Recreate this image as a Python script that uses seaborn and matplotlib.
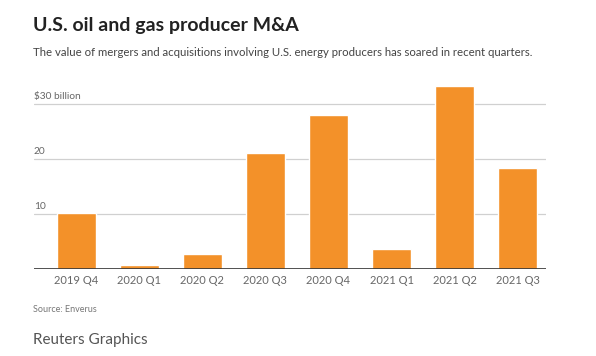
import matplotlib
matplotlib.use("Agg")
import matplotlib.pyplot as plt
import seaborn as sns
import pandas as pd

quarters = ["2019 Q4", "2020 Q1", "2020 Q2", "2020 Q3",
            "2020 Q4", "2021 Q1", "2021 Q2", "2021 Q3"]
deal_value = [10.2, 0.7, 2.8, 21.1, 28.0, 3.7, 33.4, 18.4]  # $ billion
y_ticks = [10, 20, 30]
y_tick_labels = ["10", "20", "$30 billion"]

BAR_COLOR = "#F39129"

sns.set_style("white")
plt.rcParams["font.family"] = ["Lato", "DejaVu Sans"]

df = pd.DataFrame({"quarter": quarters, "value": deal_value})

fig = plt.figure(figsize=(5.96, 3.56), dpi=100)
ax = fig.add_axes([34 / 596, 1 - 269.3 / 356, (546 - 34) / 596, (269.3 - 82.3) / 356])

sns.barplot(data=df, x="quarter", y="value", color=BAR_COLOR, saturation=1,
            width=0.625, ax=ax, zorder=3)

ax.set_ylim(0, 34)
ax.set_xlim(-0.67, 7.45)

# gridlines with labels sitting on top, left aligned
for t, lab in zip(y_ticks, y_tick_labels):
    ax.axhline(t, color="#d0d0d0", lw=0.9, zorder=1)
    ax.text(0, t + 0.6, lab, transform=ax.get_yaxis_transform(),
            ha="left", va="bottom", fontsize=7.3, color="#666666")
ax.axhline(0, color="#333333", lw=1.2, zorder=4)

ax.set_yticks([])
ax.set_xlabel("")
ax.set_ylabel("")
ax.tick_params(axis="x", length=0, pad=4, labelsize=8, labelcolor="#666666")
sns.despine(ax=ax, left=True, bottom=True)

fig.text(33 / 596, 1 - 25 / 356, "U.S. oil and gas producer M&A",
         fontsize=14, fontweight="bold", color="#222222", va="center")
fig.text(33 / 596, 1 - 53 / 356,
         "The value of mergers and acquisitions involving U.S. energy producers has soared in recent quarters.",
         fontsize=8.2, color="#444444", va="center")
fig.text(33 / 596, 1 - 310 / 356, "Source: Enverus",
         fontsize=6.5, color="#777777", va="center")
fig.text(33 / 596, 1 - 340 / 356, "Reuters Graphics",
         fontsize=11, color="#555555", va="center")

fig.savefig("out.png", dpi=100)
